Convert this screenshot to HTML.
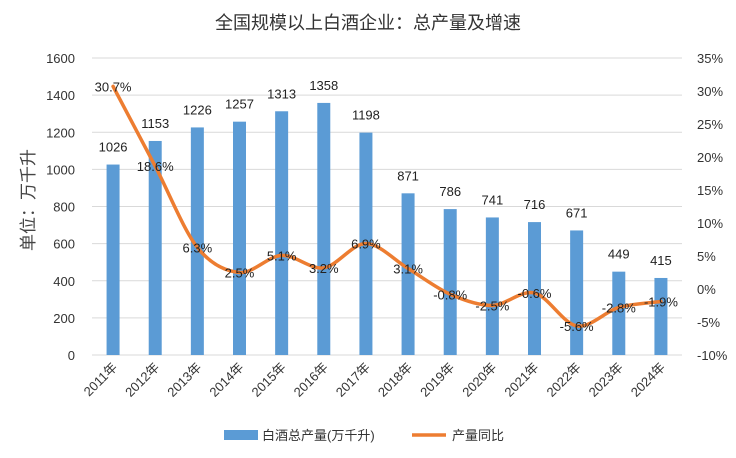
<!DOCTYPE html>
<html><head><meta charset="utf-8"><style>
body{margin:0;background:#fff;}
svg{display:block;font-family:"Liberation Sans","Noto Sans CJK SC",sans-serif;}
</style></head><body>
<svg id="c" width="736" height="458" xmlns="http://www.w3.org/2000/svg"></svg>
<script>
(function(){
const s=document.getElementById('c');
let h='';
h+='<text x="368" y="29" font-size="18" text-anchor="middle" fill="#333">全国规模以上白酒企业：总产量及增速</text>';
const yT=58,yB=355,x0=92,x1=682;
for(let i=0;i<=8;i++){const y=yB-i*(yB-yT)/8;
h+=`<line x1="${x0}" x2="${x1}" y1="${y}" y2="${y}" stroke="#d9d9d9" stroke-width="1"/>`;
h+=`<text x="75" y="${y+5}" font-size="13" text-anchor="end" fill="#333">${i*200}</text>`;}
for(let k=0;k<=9;k++){const y=yB-k*(yB-yT)/9;
h+=`<text x="697" y="${y+5}" font-size="13" fill="#333">${(k*5-10)}%</text>`;}
h+='<text transform="translate(34,200) rotate(-90)" font-size="17" text-anchor="middle" fill="#444">单位：万千升</text>';
const vals=[1026,1153,1226,1257,1313,1358,1198,871,786,741,716,671,449,415];
const pct=[30.7,18.6,6.3,2.5,5.1,3.2,6.9,3.1,-0.8,-2.5,-0.6,-5.6,-2.8,-1.9];
const w=(x1-x0)/14;
const pts=[];
vals.forEach((v,i)=>{const cx=x0+w*(i+0.5);const y=yB-v/1600*(yB-yT);
h+=`<rect x="${cx-6.5}" y="${y}" width="13" height="${yB-y}" fill="#5b9bd5"/>`;
h+=`<text x="${cx}" y="${y-13}" font-size="13" text-anchor="middle" fill="#222">${v}</text>`;
h+=`<text transform="translate(${cx+5},368) rotate(-45)" font-size="13" text-anchor="end" fill="#333">${2011+i}年</text>`;
pts.push([cx,yB-(pct[i]+10)/45*(yB-yT)]);});
let d=`M${pts[0][0]},${pts[0][1]}`;
for(let i=0;i<pts.length-1;i++){const p0=pts[i-1]||pts[i],p1=pts[i],p2=pts[i+1],p3=pts[i+2]||p2;const t=0.16;
d+=` C${p1[0]+(p2[0]-p0[0])*t},${p1[1]+(p2[1]-p0[1])*t} ${p2[0]-(p3[0]-p1[0])*t},${p2[1]-(p3[1]-p1[1])*t} ${p2[0]},${p2[1]}`;}
h+=`<path d="${d}" fill="none" stroke="#ed7d31" stroke-width="3.5" stroke-linejoin="round" stroke-linecap="round"/>`;
pts.forEach((p,i)=>{h+=`<text x="${p[0]}" y="${p[1]+5}" font-size="13" text-anchor="middle" fill="#222">${pct[i]}%</text>`;});
h+='<rect x="224" y="430" width="34" height="10" fill="#5b9bd5"/><text x="262" y="440" font-size="13" fill="#333">白酒总产量(万千升)</text>';
h+='<line x1="412" x2="446" y1="435" y2="435" stroke="#ed7d31" stroke-width="3.5"/><text x="452" y="440" font-size="13" fill="#333">产量同比</text>';
s.innerHTML=h;
})();
</script>
</body></html>
